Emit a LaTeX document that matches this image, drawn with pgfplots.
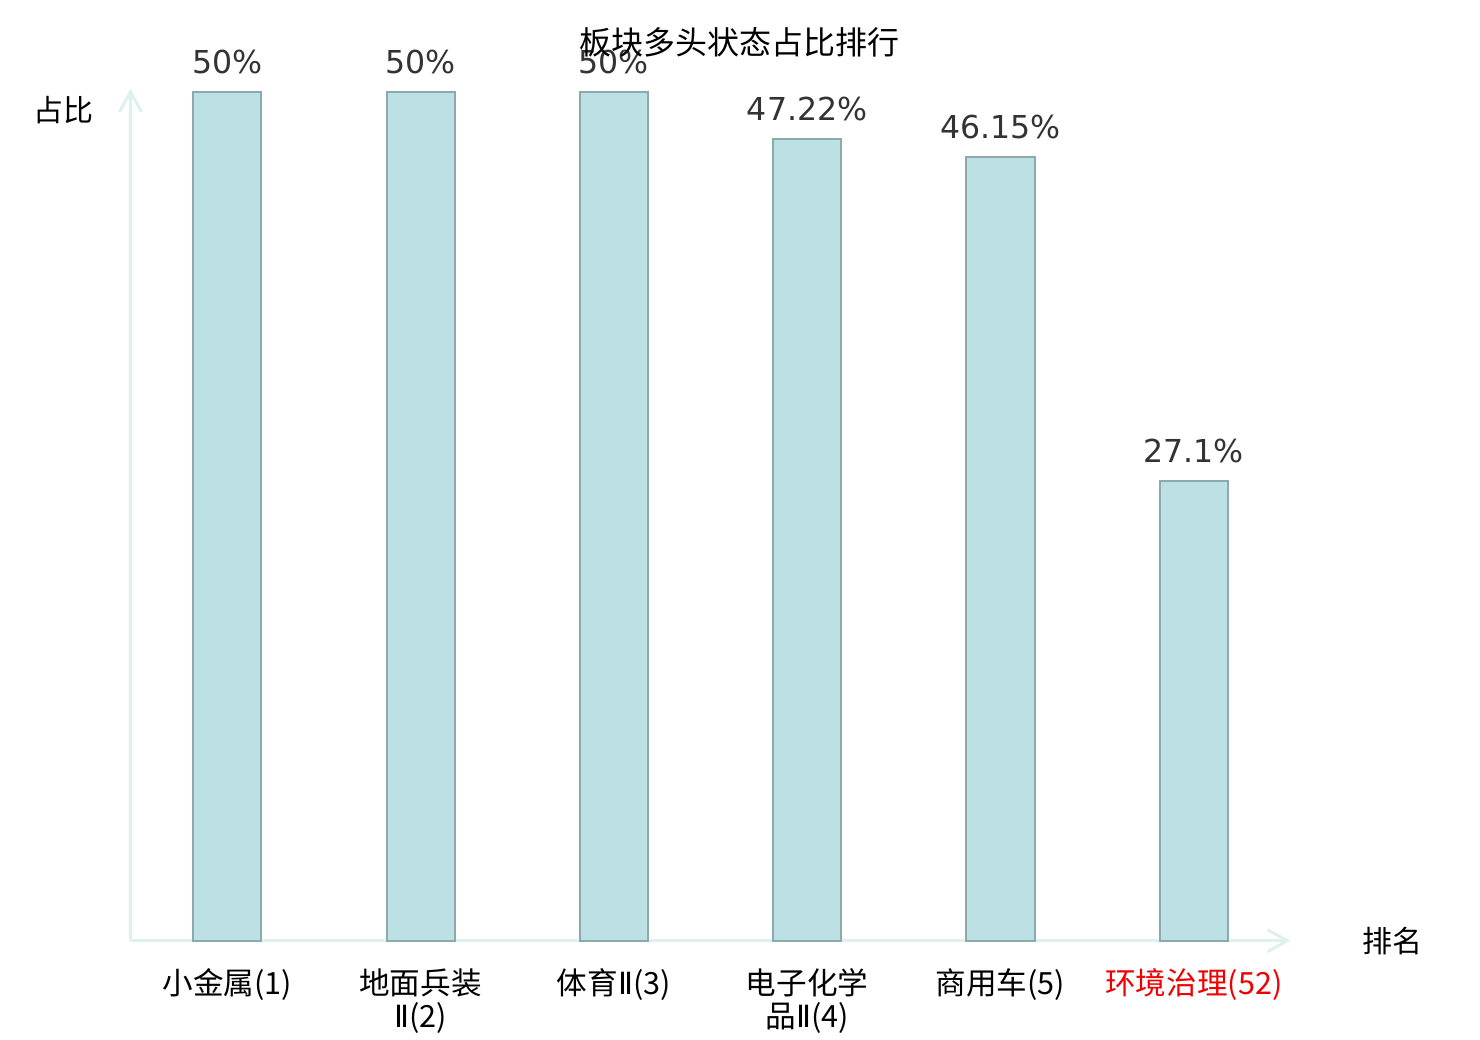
\documentclass[border=0pt]{standalone}
\usepackage{pgfplots}
\pgfplotsset{compat=1.18}
\usepackage{fontspec}
\setmainfont{Noto Sans CJK SC}
\newfontfamily\dejavu{DejaVu Sans}
\usetikzlibrary{arrows.meta}
\definecolor{barfill}{HTML}{BCE0E3}
\definecolor{baredge}{HTML}{8CA9AB}
\definecolor{axcol}{HTML}{DDF1EF}
\definecolor{valcol}{HTML}{333333}
\definecolor{redlab}{HTML}{F00000}
\newcommand{\rII}{{\dejavu Ⅱ}}
\begin{document}
\begin{tikzpicture}[x=1pt,y=1pt]
\useasboundingbox (0,0) rectangle (740,520);
\begin{axis}[
  at={(117.5,58.5)}, anchor=origin,
  scale only axis, width=580pt, height=426pt,
  xmin=-0.5, xmax=5.5, ymin=0, ymax=50.18,
  axis lines=left,
  axis line style={color=axcol, line width=1.5pt, -{Straight Barb[length=10pt,width=11pt,line width=1.5pt]}},
  ytick=\empty,
  xtick={0,1,2,3,4,5},
  xticklabels={小金属(1),地面兵装\\\rII(2),体育\rII(3),电子化学\\品\rII(4),商用车(5),\textcolor{redlab}{环境治理(52)}},
  major tick length=0pt,
  x tick label style={font=\fontsize{15.3}{16.5}\selectfont, align=center, anchor=north, inner sep=0pt, yshift=-13.8pt},
  clip=false,
]
\addplot[ybar, bar width=34pt, fill=barfill, draw=baredge, line width=1pt,
  point meta=explicit symbolic,
  nodes near coords={\pgfplotspointmeta},
  nodes near coords style={font=\dejavu\fontsize{15.8}{16}\selectfont, text=valcol, anchor=center, yshift=15pt, inner sep=0pt}]
coordinates {
(0,50) [50\%]
(1,50) [50\%]
(2,50) [50\%]
(3,47.22) [47.22\%]
(4,46.15) [46.15\%]
(5,27.1) [27.1\%]
};
\end{axis}
\node[font=\fontsize{16}{18}\selectfont] at (369.5,499) {板块多头状态占比排行};
\node[font=\fontsize{15}{16}\selectfont] at (31.5,465) {占比};
\node[font=\fontsize{15}{16}\selectfont] at (696,49.5) {排名};
\end{tikzpicture}
\end{document}
